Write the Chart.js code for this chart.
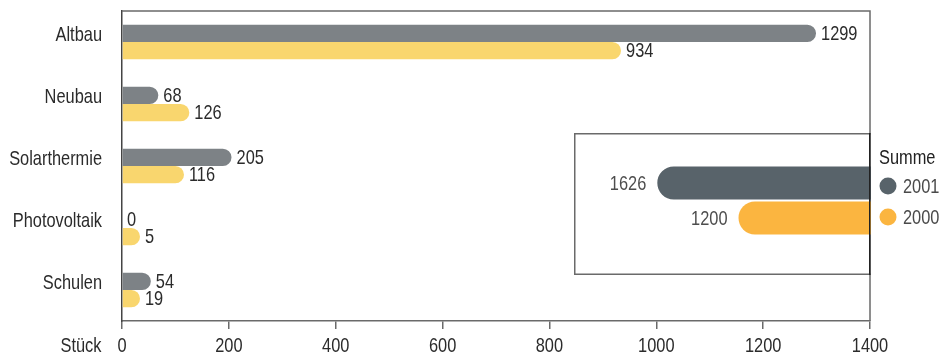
<!DOCTYPE html>
<html>
<head>
<meta charset="utf-8">
<script src="https://cdn.jsdelivr.net/npm/chart.js@4.4.1/dist/chart.umd.min.js"></script>
<style>
  html, body { margin: 0; padding: 0; background: #ffffff; }
  #wrap { position: relative; width: 941px; height: 356px; }
  #main { position: absolute; left: 0; top: 0; }
  #sum { position: absolute; left: 574px; top: 133px; }
</style>
</head>
<body>
<div id="wrap">
  <canvas id="main" width="941" height="356"></canvas>
  <canvas id="sum" width="297" height="142"></canvas>
</div>
<script>
// Installed units per programme
const categories = ['Altbau', 'Neubau', 'Solarthermie', 'Photovoltaik', 'Schulen'];
const values2001 = [1299, 68, 205, 0, 54];
const values2000 = [934, 126, 116, 5, 19];
const xTicks = [0, 200, 400, 600, 800, 1000, 1200, 1400];
const unitLabel = 'Stück';

// Totals shown in the inset box
const sumTitle = 'Summe';
const sumLabels = ['2001', '2000'];
const sumValues = [1626, 1200];

const FONT = "'Liberation Sans', Arial, sans-serif";
const FONT_SIZE = 21;
const NARROW = 0.78;          // horizontal squeeze for a condensed look
const TEXT = '#2b2b2b';
const LINE = '#6a6a6a';
const GREY = '#7d8286';
const YELLOW = '#f9d66e';
const DARK = '#58636a';
const ORANGE = '#fbb540';

// condensed text: squeeze horizontally around the anchor point
function narrowText(ctx, str, x, y, align, color) {
  ctx.save();
  ctx.font = FONT_SIZE + 'px ' + FONT;
  ctx.fillStyle = color || TEXT;
  ctx.textAlign = align;
  ctx.textBaseline = 'middle';
  ctx.translate(x, y);
  ctx.scale(NARROW, 1);
  ctx.fillText(str, 0, 0);
  ctx.restore();
}

// axis labels, value labels at the bar ends, frame and legend of the totals
const mainDecor = {
  id: 'mainDecor',
  afterDatasetsDraw(chart) {
    const ctx = chart.ctx;
    chart.data.datasets.forEach((ds, i) => {
      chart.getDatasetMeta(i).data.forEach((el, j) => {
        narrowText(ctx, String(ds.data[j]), el.x + 5, el.y + 1, 'left');
      });
    });
  },
  afterDraw(chart) {
    const ctx = chart.ctx;
    const a = chart.chartArea;
    const xs = chart.scales.x, ys = chart.scales.y;
    ctx.save();
    // top and right edges of the frame
    ctx.strokeStyle = LINE;
    ctx.lineWidth = 1.5;
    ctx.beginPath();
    ctx.moveTo(a.left, a.top);
    ctx.lineTo(a.right, a.top);
    ctx.lineTo(a.right, a.bottom);
    ctx.stroke();
    ctx.restore();
    // category names
    categories.forEach((c, i) => {
      narrowText(ctx, c, a.left - 20, ys.getPixelForValue(i) - 7, 'right');
    });
    // x tick labels and unit
    xTicks.forEach(v => {
      narrowText(ctx, String(v), xs.getPixelForValue(v), 346, 'center');
    });
    narrowText(ctx, unitLabel, 81, 346, 'center');
    // legend of the totals
    narrowText(ctx, sumTitle, 879, 158, 'left', '#222222');
    const colors = [DARK, ORANGE];
    sumLabels.forEach((lab, i) => {
      const y = 186 + i * 31;
      ctx.save();
      ctx.fillStyle = colors[i];
      ctx.beginPath();
      ctx.arc(888, y, 8.5, 0, Math.PI * 2);
      ctx.fill();
      ctx.restore();
      narrowText(ctx, lab, 903, y + 1, 'left', '#4a4a4a');
    });
  }
};

new Chart(document.getElementById('main'), {
  type: 'bar',
  data: {
    labels: categories,
    datasets: [
      {
        label: '2001',
        data: values2001,
        backgroundColor: GREY,
        borderRadius: 9,
        borderSkipped: 'start',
        categoryPercentage: 0.56,
        barPercentage: 1
      },
      {
        label: '2000',
        data: values2000,
        backgroundColor: YELLOW,
        borderRadius: 9,
        borderSkipped: 'start',
        categoryPercentage: 0.56,
        barPercentage: 1,
        minBarLength: 18
      }
    ]
  },
  options: {
    indexAxis: 'y',
    responsive: false,
    animation: false,
    layout: { padding: { top: 11, right: 71, left: 0, bottom: 0 } },
    plugins: { legend: { display: false }, tooltip: { enabled: false } },
    scales: {
      x: {
        type: 'linear',
        position: 'bottom',
        min: xTicks[0],
        max: xTicks[xTicks.length - 1],
        afterBuildTicks(scale) { scale.ticks = xTicks.map(v => ({ value: v })); },
        afterFit(scale) { scale.height = 35; },
        ticks: { display: false },
        grid: { drawOnChartArea: false, drawTicks: true, tickLength: 8, color: LINE, lineWidth: 1.5 },
        border: { display: true, color: LINE, width: 1.5 }
      },
      y: {
        type: 'category',
        afterFit(scale) { scale.width = 122; },
        ticks: { display: false },
        grid: { display: false, drawTicks: false },
        border: { display: true, color: '#444444', width: 1.5 }
      }
    }
  },
  plugins: [mainDecor]
});

// inset with the totals, bars running in from the right edge
const sumDecor = {
  id: 'sumDecor',
  afterDatasetsDraw(chart) {
    const ctx = chart.ctx;
    const ds = chart.data.datasets[0];
    chart.getDatasetMeta(0).data.forEach((el, j) => {
      narrowText(ctx, String(ds.data[j]), el.x - 11, el.y + 1, 'right', '#4d4d4d');
    });
  },
  afterDraw(chart) {
    const ctx = chart.ctx;
    const w = chart.width, h = chart.height;
    ctx.save();
    ctx.strokeStyle = LINE;
    ctx.lineWidth = 1.5;
    ctx.beginPath();
    ctx.moveTo(w, 0.75);
    ctx.lineTo(0.75, 0.75);
    ctx.lineTo(0.75, h - 0.75);
    ctx.lineTo(w, h - 0.75);
    ctx.stroke();
    ctx.strokeStyle = '#222222';
    ctx.beginPath();
    ctx.moveTo(w - 1.25, 0);
    ctx.lineTo(w - 1.25, h);
    ctx.stroke();
    ctx.restore();
  }
};

new Chart(document.getElementById('sum'), {
  type: 'bar',
  data: {
    labels: sumLabels,
    datasets: [{
      label: sumTitle,
      data: sumValues,
      backgroundColor: [DARK, ORANGE],
      borderRadius: 17,
      borderSkipped: 'start',
      categoryPercentage: 1,
      barPercentage: 0.94
    }]
  },
  options: {
    indexAxis: 'y',
    responsive: false,
    animation: false,
    layout: { padding: { top: 32.5, bottom: 39.5, left: 0, right: 0 } },
    plugins: { legend: { display: false }, tooltip: { enabled: false } },
    scales: {
      x: { type: 'linear', reverse: true, min: 505, max: 2063, display: false },
      y: { type: 'category', display: false }
    }
  },
  plugins: [sumDecor]
});
</script>
</body>
</html>
